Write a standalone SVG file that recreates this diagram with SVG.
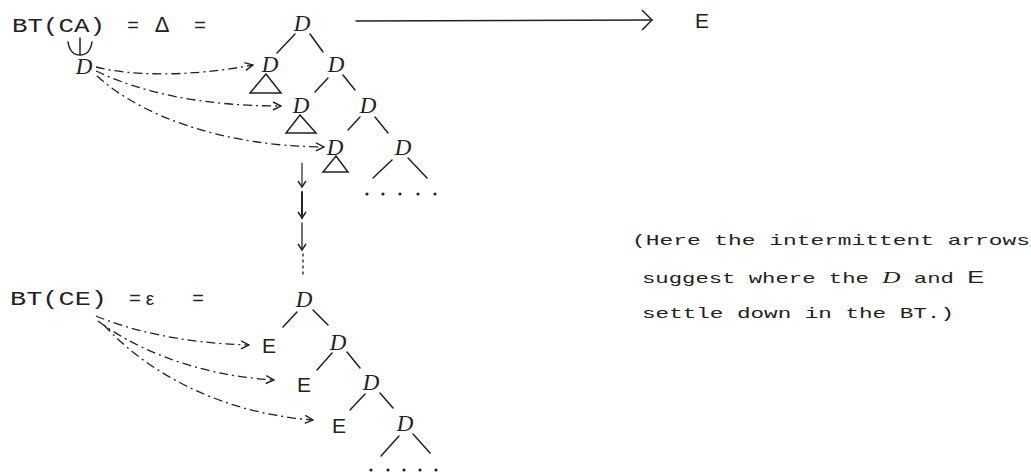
<svg xmlns="http://www.w3.org/2000/svg" width="1031" height="473" viewBox="0 0 1031 473">
<defs>
<style>
.tw{font-family:"Liberation Mono","DejaVu Sans Mono",monospace;fill:#222}
.lab{font-size:20px}
.note{font-size:15px}
.d{font-family:"Liberation Serif","DejaVu Serif",serif;font-style:italic;font-size:23px;fill:#222;text-anchor:middle}
.e{font-family:"Liberation Sans","DejaVu Sans",sans-serif;font-size:21px;fill:#222;text-anchor:middle}
.ln{stroke:#222;stroke-width:1.5;fill:none;stroke-linecap:round}
.dd{stroke:#222;stroke-width:1.3;fill:none;stroke-dasharray:9 4 2 4}
.dot{fill:#222}
</style>
<marker id="ah" viewBox="0 0 10 10" refX="9" refY="5" markerWidth="10" markerHeight="10" markerUnits="userSpaceOnUse" orient="auto">
<path d="M1,1 L9,5 L1,9" fill="none" stroke="#222" stroke-width="1.4"/>
</marker>
<marker id="ahd" viewBox="0 0 10 10" refX="5" refY="9" markerWidth="10" markerHeight="10" markerUnits="userSpaceOnUse" orient="0">
<path d="M1,3 L5,9 L9,3" fill="none" stroke="#222" stroke-width="1.4"/>
</marker>
<marker id="ahb" viewBox="0 0 12 22" refX="11" refY="11" markerWidth="12" markerHeight="22" markerUnits="userSpaceOnUse" orient="auto">
<path d="M1,1 L11,11 L1,21" fill="none" stroke="#222" stroke-width="1.5"/>
</marker>
</defs>

<g id="label-ca">
<text class="tw lab" x="12" y="32" textLength="93" lengthAdjust="spacingAndGlyphs">BT(CA)</text>
<text class="tw lab" x="127" y="32">=</text>
<text x="162" y="32" style="font-family:'Liberation Sans','DejaVu Sans',sans-serif;font-size:22px;fill:#222;text-anchor:middle">Δ</text>
<text class="tw lab" x="194" y="32">=</text>
<path class="ln" d="M68,42 Q70,55 80,55 Q90,55 92,42 M80,38 L80,55"/>
<text class="d" x="84" y="74">D</text>
</g>

<g id="tree-top">
<text class="d" x="302" y="31">D</text>
<text class="d" x="270" y="72">D</text>
<text class="d" x="336" y="72">D</text>
<text class="d" x="301" y="113">D</text>
<text class="d" x="368" y="113">D</text>
<text class="d" x="335" y="155">D</text>
<text class="d" x="403" y="155">D</text>
<path class="ln" d="M295,34 L277,53 M310,34 L323,52 M328,78 L315,92 M343,75 L355,90 M360,117 L348,130 M375,117 L388,133 M392,160 L373,178 M408,158 L427,178"/>
<path class="ln" d="M266,74 L250,93 L281,93 Z"/>
<path class="ln" d="M300,115 L286,133 L316,133 Z"/>
<path class="ln" d="M336,156 L323,172 L348,172 Z"/>
<g class="dot"><circle cx="367" cy="194" r="1.6"/><circle cx="383" cy="194" r="1.6"/><circle cx="400" cy="194" r="1.6"/><circle cx="418" cy="194" r="1.6"/><circle cx="435" cy="194" r="1.6"/></g>
</g>

<g id="node-e-top">
<text class="e" x="702" y="28">E</text>
</g>

<g id="label-ce">
<text class="tw lab" x="10" y="305" textLength="97" lengthAdjust="spacingAndGlyphs">BT(CE)</text>
<text class="tw lab" x="129" y="305">=</text>
<text x="150" y="305" style="font-family:'Liberation Sans','DejaVu Sans',sans-serif;font-size:19px;fill:#222;text-anchor:middle">ε</text>
<text class="tw lab" x="192" y="305">=</text>
</g>

<g id="tree-bottom">
<text class="d" x="304" y="307">D</text>
<text class="e" x="269" y="353">E</text>
<text class="d" x="338" y="350">D</text>
<text class="e" x="304" y="392">E</text>
<text class="d" x="371" y="390">D</text>
<text class="e" x="339" y="433">E</text>
<text class="d" x="405" y="431">D</text>
<path class="ln" d="M297,312 L283,327 M313,310 L328,325 M332,353 L317,370 M347,352 L360,368 M365,394 L350,410 M380,393 L393,408 M399,436 L381,456 M413,434 L430,453"/>
<g class="dot"><circle cx="371" cy="470" r="1.6"/><circle cx="388" cy="470" r="1.6"/><circle cx="404" cy="470" r="1.6"/><circle cx="420" cy="470" r="1.6"/><circle cx="436" cy="470" r="1.6"/></g>
</g>

<g id="note">
<text class="tw note" x="632" y="245" textLength="398" lengthAdjust="spacingAndGlyphs">(Here the intermittent arrows</text>
<text class="tw note" x="642" y="283" textLength="342" lengthAdjust="spacingAndGlyphs">suggest where the <tspan class="d" style="font-size:17px">D</tspan> and <tspan style="font-family:'Liberation Sans',sans-serif;font-size:17px">E</tspan></text>
<text class="tw note" x="642" y="318" textLength="312" lengthAdjust="spacingAndGlyphs">settle down in the BT.)</text>
</g>

<g id="connectors">
<path class="ln" d="M356,21 L652,20" marker-end="url(#ahb)" style="stroke-width:1.3"/>
<path class="dd" d="M96,67 C130,76 190,77 253,65" marker-end="url(#ah)"/>
<path class="dd" d="M96,71 C140,92 200,106 281,106" marker-end="url(#ah)"/>
<path class="dd" d="M97,76 C140,115 220,146 324,147" marker-end="url(#ah)"/>
<path class="ln" d="M302,163 L302,187" marker-end="url(#ahd)" style="stroke-width:1.2"/>
<path class="ln" d="M302,192 L302,218" marker-end="url(#ahd)" style="stroke-width:2"/>
<path class="ln" d="M302,223 L302,250" marker-end="url(#ahd)" style="stroke-width:1.3"/>
<path class="ln" d="M303,254 L303,278" style="stroke-width:1.3;stroke-dasharray:2 4"/>
<path class="dd" d="M96,316 C130,330 180,343 249,345" marker-end="url(#ah)"/>
<path class="dd" d="M98,321 C130,345 190,375 274,380" marker-end="url(#ah)"/>
<path class="dd" d="M104,325 C140,365 210,412 313,420" marker-end="url(#ah)"/>
</g>
</svg>
